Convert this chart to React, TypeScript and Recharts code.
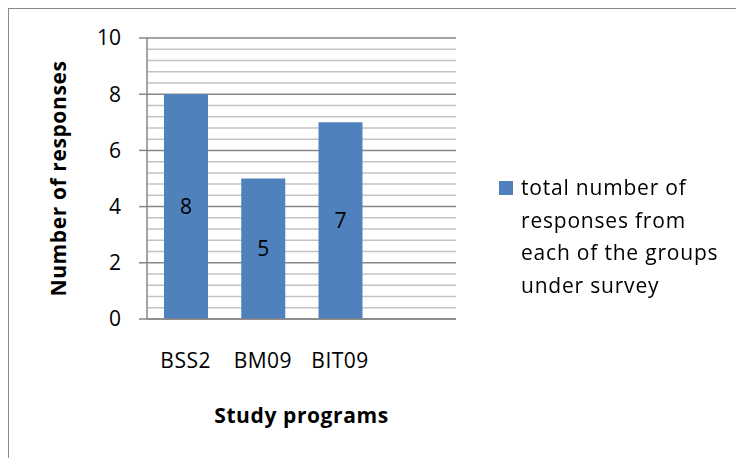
import React from "react";
import { BarChart, Bar, XAxis, YAxis, CartesianGrid, Legend, LabelList } from "recharts";

const categories = ["BSS2", "BM09", "BIT09", ""];
const responses: (number | null)[] = [8, 5, 7, null];
const majorTicks = [0, 2, 4, 6, 8, 10];
const gridTicks = [0, 0.4, 0.8, 1.2, 1.6, 2, 2.4, 2.8, 3.2, 3.6, 4, 4.4, 4.8, 5.2, 5.6, 6, 6.4, 6.8, 7.2, 7.6, 8, 8.4, 8.8, 9.2, 9.6, 10];
const seriesName = "total number of responses from each of the groups under survey";
const legendLines = ["total number of", "responses from", "each of the groups", "under survey"];

const data = categories.map((c, i) => ({ name: c, value: responses[i] }));

const FONT = "'Open Sans', Lato, sans-serif";
const BLUE = "#4f81bd";
const MAJOR = "#878787";
const MINOR = "#c3c3c3";
const TICK_SIZE = 8;
const TICK_MARGIN = 18;

const isMajor = (v: number) => majorTicks.some((m) => Math.abs(m - v) < 1e-6);

const XTick = (props: any) => {
  const { x, y, payload } = props;
  return (
    <text x={x} y={y + 41} textAnchor="middle" fontSize={21} letterSpacing={0.5} fontFamily={FONT} fill="#000">
      {payload.value}
    </text>
  );
};

const YTick = (props: any) => {
  const { x, y, payload } = props;
  if (!isMajor(payload.value)) return <g />;
  return (
    <g>
      <line x1={x + TICK_MARGIN} x2={x + TICK_MARGIN + TICK_SIZE} y1={y} y2={y} stroke={MAJOR} strokeWidth={1.5} />
      <text x={x} y={y} dy="0.355em" textAnchor="end" fontSize={21} fontFamily={FONT} fill="#000">
        {payload.value}
      </text>
    </g>
  );
};

const GridLine = (props: any) => {
  const { x1, x2, y1, y2, index } = props;
  const v = gridTicks[index];
  const major = v === undefined ? true : isMajor(v);
  return <line x1={x1} x2={x2} y1={y1} y2={y2} stroke={major ? MAJOR : MINOR} strokeWidth={1.5} />;
};

const LegendContent = () => (
  <div style={{ position: "relative", fontFamily: FONT, fontSize: 21, letterSpacing: 0.8, color: "#000", lineHeight: "32.5px" }}>
    <div style={{ position: "absolute", left: 0, top: 10, width: 14, height: 14, background: BLUE }} />
    <div style={{ marginLeft: 22 }}>
      {legendLines.map((l, i) => (
        <div key={i} style={{ whiteSpace: "nowrap" }}>{l}</div>
      ))}
    </div>
  </div>
);

export default function App() {
  return (
    <div style={{ position: "fixed", left: 8, top: 8, width: 727, height: 449, borderLeft: "1px solid #8a8a8a", borderTop: "1px solid #8a8a8a", background: "#fff" }}>
      <BarChart
        width={727}
        height={449}
        data={data}
        margin={{ top: 29, right: 280, bottom: 99, left: 78 }}
        barSize={44}
      >
        <CartesianGrid vertical={false} horizontal={(p: any) => <GridLine {...p} />} />
        <XAxis
          dataKey="name"
          height={40}
          tickLine={false}
          axisLine={{ stroke: MAJOR, strokeWidth: 1.5 }}
          tick={<XTick />}
          interval={0}
          label={{ value: "Study programs", position: "insideBottom", offset: -64, fontSize: 21, letterSpacing: 0.6, fontWeight: 700, fontFamily: FONT, fill: "#000" }}
        />
        <YAxis
          width={60}
          domain={[0, 10]}
          ticks={gridTicks}
          interval={0}
          tickSize={TICK_SIZE}
          tickMargin={TICK_MARGIN}
          tickLine={false}
          axisLine={{ stroke: MAJOR, strokeWidth: 1.5 }}
          tick={<YTick />}
          label={{ value: "Number of responses", angle: -90, position: "left", offset: 28, textAnchor: "middle", fontSize: 21, letterSpacing: 0.6, fontWeight: 700, fontFamily: FONT, fill: "#000" }}
        />
        <Legend
          layout="horizontal"
          align="center"
          verticalAlign="middle"
          content={<LegendContent />}
          wrapperStyle={{ left: 490, top: 162, width: 240 }}
        />
        <Bar dataKey="value" name={seriesName} fill={BLUE} isAnimationActive={false}>
          <LabelList dataKey="value" position="center" fontSize={21} fontFamily={FONT} fill="#000" />
        </Bar>
      </BarChart>
    </div>
  );
}
